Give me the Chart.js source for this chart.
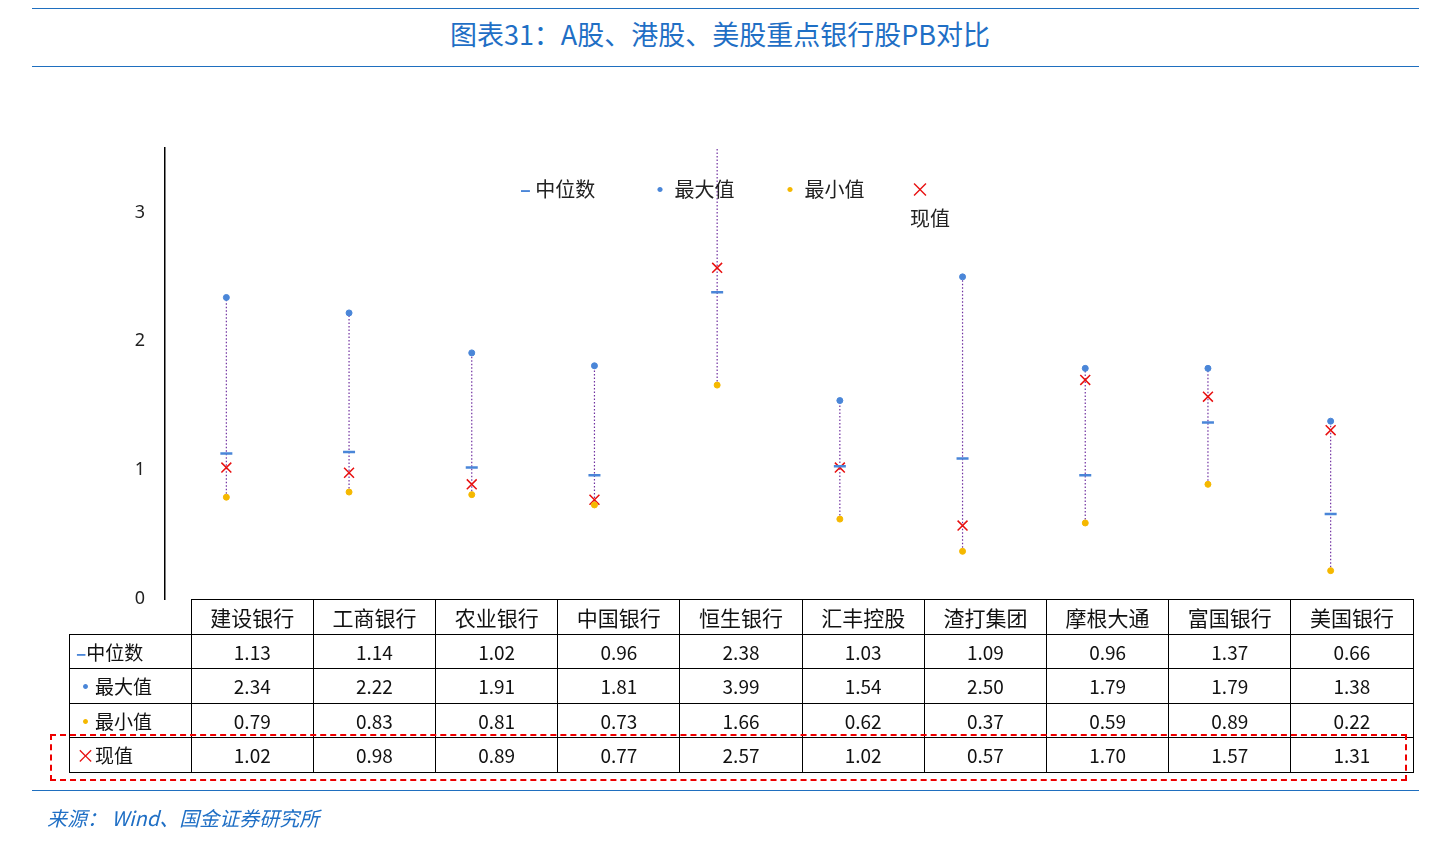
<!DOCTYPE html>
<html><head><meta charset="utf-8">
<script src="https://cdn.jsdelivr.net/npm/chart.js@4/dist/chart.umd.min.js"></script>
<style>
body{margin:0;width:1440px;height:849px;background:#fff;font-family:"Noto Sans CJK SC","Noto Sans",sans-serif;position:relative;overflow:hidden}
#c{position:absolute;left:0;top:0}
.hl{position:absolute;left:32px;width:1387px;border-top:1.5px solid #1f6fbf}
#title{position:absolute;top:14px;left:0;width:1440px;text-align:center;color:#1f6fc5;font-size:27px}
#legend{position:absolute;top:174px;left:520px;font-size:20px;color:#222;display:flex;gap:0}
#legend span{display:inline-block;width:130px}
table{position:absolute;left:69px;top:599px;border-collapse:collapse;font-size:19px;color:#111}
td{border:1.5px solid #000;height:33.5px;padding:0;text-align:center;width:121.2px}
td.lab{width:94px;text-align:left;padding-left:6px;box-sizing:border-box}
tr.h td{font-size:21px}
#box{position:absolute;left:50px;top:734px;width:1357px;height:47px;border:2.5px dashed #e00;box-sizing:border-box}
#src{position:absolute;left:47px;top:803px;color:#1f6fc5;font-style:italic;font-size:20px}
</style></head><body>
<div class="hl" style="top:8px"></div>
<div id="title">图表31：A股、港股、美股重点银行股PB对比</div>
<div class="hl" style="top:66px"></div>
<canvas id="c" width="1440" height="849"></canvas>
<div id="legend"></div>
<table id="tb"></table>
<div id="box"></div>
<div class="hl" style="top:790px"></div>
<div id="src">来源： Wind、国金证券研究所</div>
<script>
const categories=["建设银行","工商银行","农业银行","中国银行","恒生银行","汇丰控股","渣打集团","摩根大通","富国银行","美国银行"];
const medianVals=[1.13,1.14,1.02,0.96,2.38,1.03,1.09,0.96,1.37,0.66];
const maxVals=[2.34,2.22,1.91,1.81,3.99,1.54,2.50,1.79,1.79,1.38];
const minVals=[0.79,0.83,0.81,0.73,1.66,0.62,0.37,0.59,0.89,0.22];
const curVals=[1.02,0.98,0.89,0.77,2.57,1.02,0.57,1.70,1.57,1.31];
const yTicks=[0,1,2,3];
const names=["中位数","最大值","最小值","现值"];
const colors=["#4a86d8","#4a86d8","#f5b800","#e81010"];
const marks=["<b style='color:#4a86d8'>–</b>","<b style='color:#4a86d8'>•</b>","<b style='color:#f5b800'>•</b>","<span style='color:#e81010'>×</span>"];
document.getElementById('legend').innerHTML=names.map((n,i)=>`<span>${marks[i]} ${n}</span>`).join('');
const fmt=v=>v.toFixed(2);
let h='<tr class="h"><td style="border:none;border-right:1.5px solid #000;border-bottom:1.5px solid #000"></td>'+categories.map(c=>`<td>${c}</td>`).join('')+'</tr>';
[medianVals,maxVals,minVals,curVals].forEach((arr,i)=>{h+=`<tr><td class="lab">${marks[i]}${names[i]}</td>`+arr.map(v=>`<td>${fmt(v)}</td>`).join('')+'</tr>';});
document.getElementById('tb').innerHTML=h;

const rangePlugin={id:'rng',beforeDatasetsDraw(ch){const {ctx,scales:{x,y},chartArea:a}=ch;ctx.save();ctx.beginPath();ctx.rect(a.left,a.top,a.right-a.left,a.bottom-a.top);ctx.clip();
ctx.strokeStyle='#7030a0';ctx.lineWidth=1.2;ctx.setLineDash([1.5,2]);
categories.forEach((c,i)=>{const px=x.getPixelForValue(i);ctx.beginPath();ctx.moveTo(px,y.getPixelForValue(minVals[i]));ctx.lineTo(px,y.getPixelForValue(maxVals[i]));ctx.stroke();});ctx.restore();}};
new Chart(document.getElementById('c'),{
 type:'line',
 data:{labels:categories,datasets:[
  {data:medianVals,showLine:false,pointStyle:'line',pointRadius:6,borderColor:'#4a86d8',pointBorderWidth:2.5},
  {data:maxVals,showLine:false,pointStyle:'circle',pointRadius:3,backgroundColor:'#4a86d8',borderColor:'#4a86d8'},
  {data:minVals,showLine:false,pointStyle:'circle',pointRadius:3,backgroundColor:'#f5b800',borderColor:'#f5b800'},
  {data:curVals,showLine:false,pointStyle:'crossRot',pointRadius:7,borderColor:'#e81010',pointBorderWidth:1.5}
 ]},
 options:{responsive:false,animation:false,events:[],
  layout:{padding:{left:0,right:48,top:148,bottom:250}},
  plugins:{legend:{display:false},tooltip:{enabled:false}},
  scales:{
   x:{display:false,offset:true},
   y:{min:0,max:3.5,afterFit(s){s.width=165;},afterBuildTicks(s){s.ticks=yTicks.map(v=>({value:v}));},
      ticks:{color:'#222',font:{size:18,family:'Noto Sans'},padding:14},
      grid:{display:false,drawTicks:true,tickLength:6,tickColor:'#000'},border:{color:'#000',width:1.5}}
  }},
 plugins:[rangePlugin]
});
</script></body></html>
